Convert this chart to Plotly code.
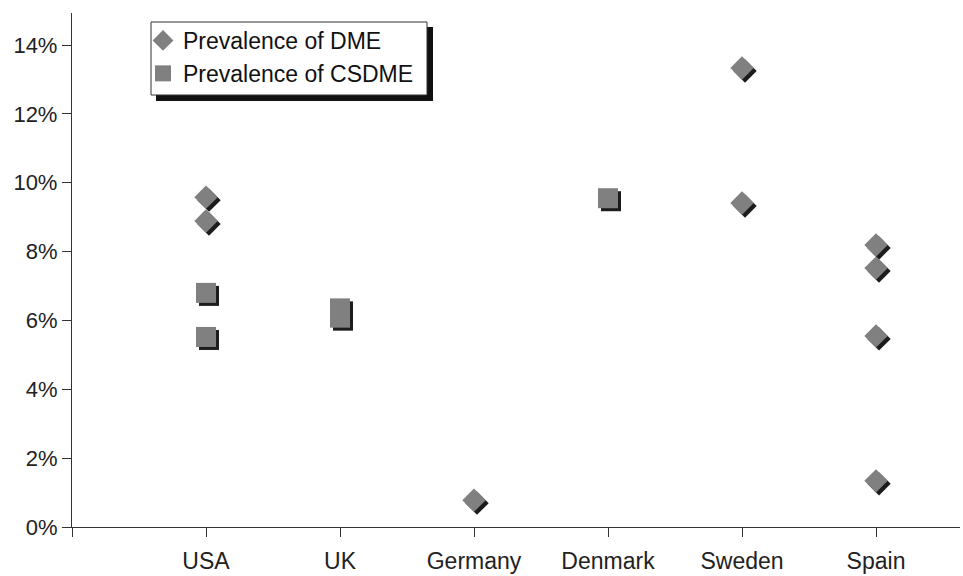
import plotly.graph_objects as go

categories = ["", "USA", "UK", "Germany", "Denmark", "Sweden", "Spain"]

dme_country = [1, 1, 3, 5, 5, 6, 6, 6, 6]
dme_values = [0.0958, 0.0889, 0.0078, 0.1333, 0.0941, 0.0819, 0.0752, 0.0555, 0.0134]

csdme_country = [1, 1, 2, 2, 4]
csdme_values = [0.0680, 0.0552, 0.0635, 0.0608, 0.0955]

W, H = 963, 576
ML, MT, MB = 72, 13, 46
SH = 3
pw = W - ML
ph = H - MT - MB
ex = SH / pw
ey = SH / ph

grey = "#808080"
shadow = "#1c1c1c"
font = "Liberation Sans, Arial, sans-serif"


def px(x):
    return (x - ML) / pw


def py(y):
    return 1 - (y - MT) / ph


fig = go.Figure()
# shadows (drawn first, on hidden shifted axes)
fig.add_trace(go.Scatter(x=dme_country, y=dme_values, mode="markers", xaxis="x", yaxis="y",
                         marker=dict(symbol="diamond", size=18, color=shadow, line=dict(width=0)),
                         showlegend=False, hoverinfo="skip"))
fig.add_trace(go.Scatter(x=csdme_country, y=csdme_values, mode="markers", xaxis="x", yaxis="y",
                         marker=dict(symbol="square", size=20, color=shadow, line=dict(width=0)),
                         showlegend=False, hoverinfo="skip"))
# main markers on visible axes
fig.add_trace(go.Scatter(x=dme_country, y=dme_values, mode="markers", name="Prevalence of DME",
                         xaxis="x2", yaxis="y2",
                         marker=dict(symbol="diamond", size=18, color=grey, line=dict(width=0))))
fig.add_trace(go.Scatter(x=csdme_country, y=csdme_values, mode="markers", name="Prevalence of CSDME",
                         xaxis="x2", yaxis="y2",
                         marker=dict(symbol="square", size=20, color=grey, line=dict(width=0))))

xr = [0, (pw - SH) / 134.0]
yr = [0, 0.14 * (ph - SH) / 482.0]

fig.update_layout(
    width=W, height=H,
    margin=dict(l=ML, r=0, t=MT, b=MB),
    paper_bgcolor="white", plot_bgcolor="rgba(0,0,0,0)",
    font=dict(family=font, size=22, color="#222"),
    xaxis=dict(domain=[ex, 1], range=xr, visible=False, anchor="y"),
    yaxis=dict(domain=[0, 1 - ey], range=yr, visible=False, anchor="x"),
    xaxis2=dict(domain=[0, 1 - ex], range=xr, tickmode="array",
                tickvals=list(range(len(categories))), ticktext=categories,
                showgrid=False, zeroline=False, showline=True, linecolor="#333", linewidth=1.3,
                ticks="outside", ticklen=9, tickcolor="#333", tickfont=dict(size=23),
                ticklabelstandoff=4, anchor="y2"),
    yaxis2=dict(domain=[ey, 1], range=yr, tickformat=".0%", dtick=0.02,
                showgrid=False, zeroline=False, showline=True, linecolor="#333", linewidth=1.3,
                ticks="outside", ticklen=9, tickcolor="#333", tickfont=dict(size=22),
                anchor="x2"),
    legend=dict(x=px(143), y=py(19), xanchor="left", yanchor="top",
                bgcolor="rgba(0,0,0,0)", borderwidth=0,
                font=dict(size=23, family=font, color="#111"),
                itemwidth=30, tracegroupgap=0),
    shapes=[
        dict(type="rect", xref="paper", yref="paper",
             x0=px(156), x1=px(433), y0=py(101), y1=py(27),
             fillcolor="#111", line=dict(width=0), layer="above"),
        dict(type="rect", xref="paper", yref="paper",
             x0=px(151), x1=px(427), y0=py(95), y1=py(22),
             fillcolor="white", line=dict(width=1, color="#333"), layer="above"),
    ],
)

fig.write_html("out.html", config={"displayModeBar": False},
               post_script="document.body.style.margin='0';")
